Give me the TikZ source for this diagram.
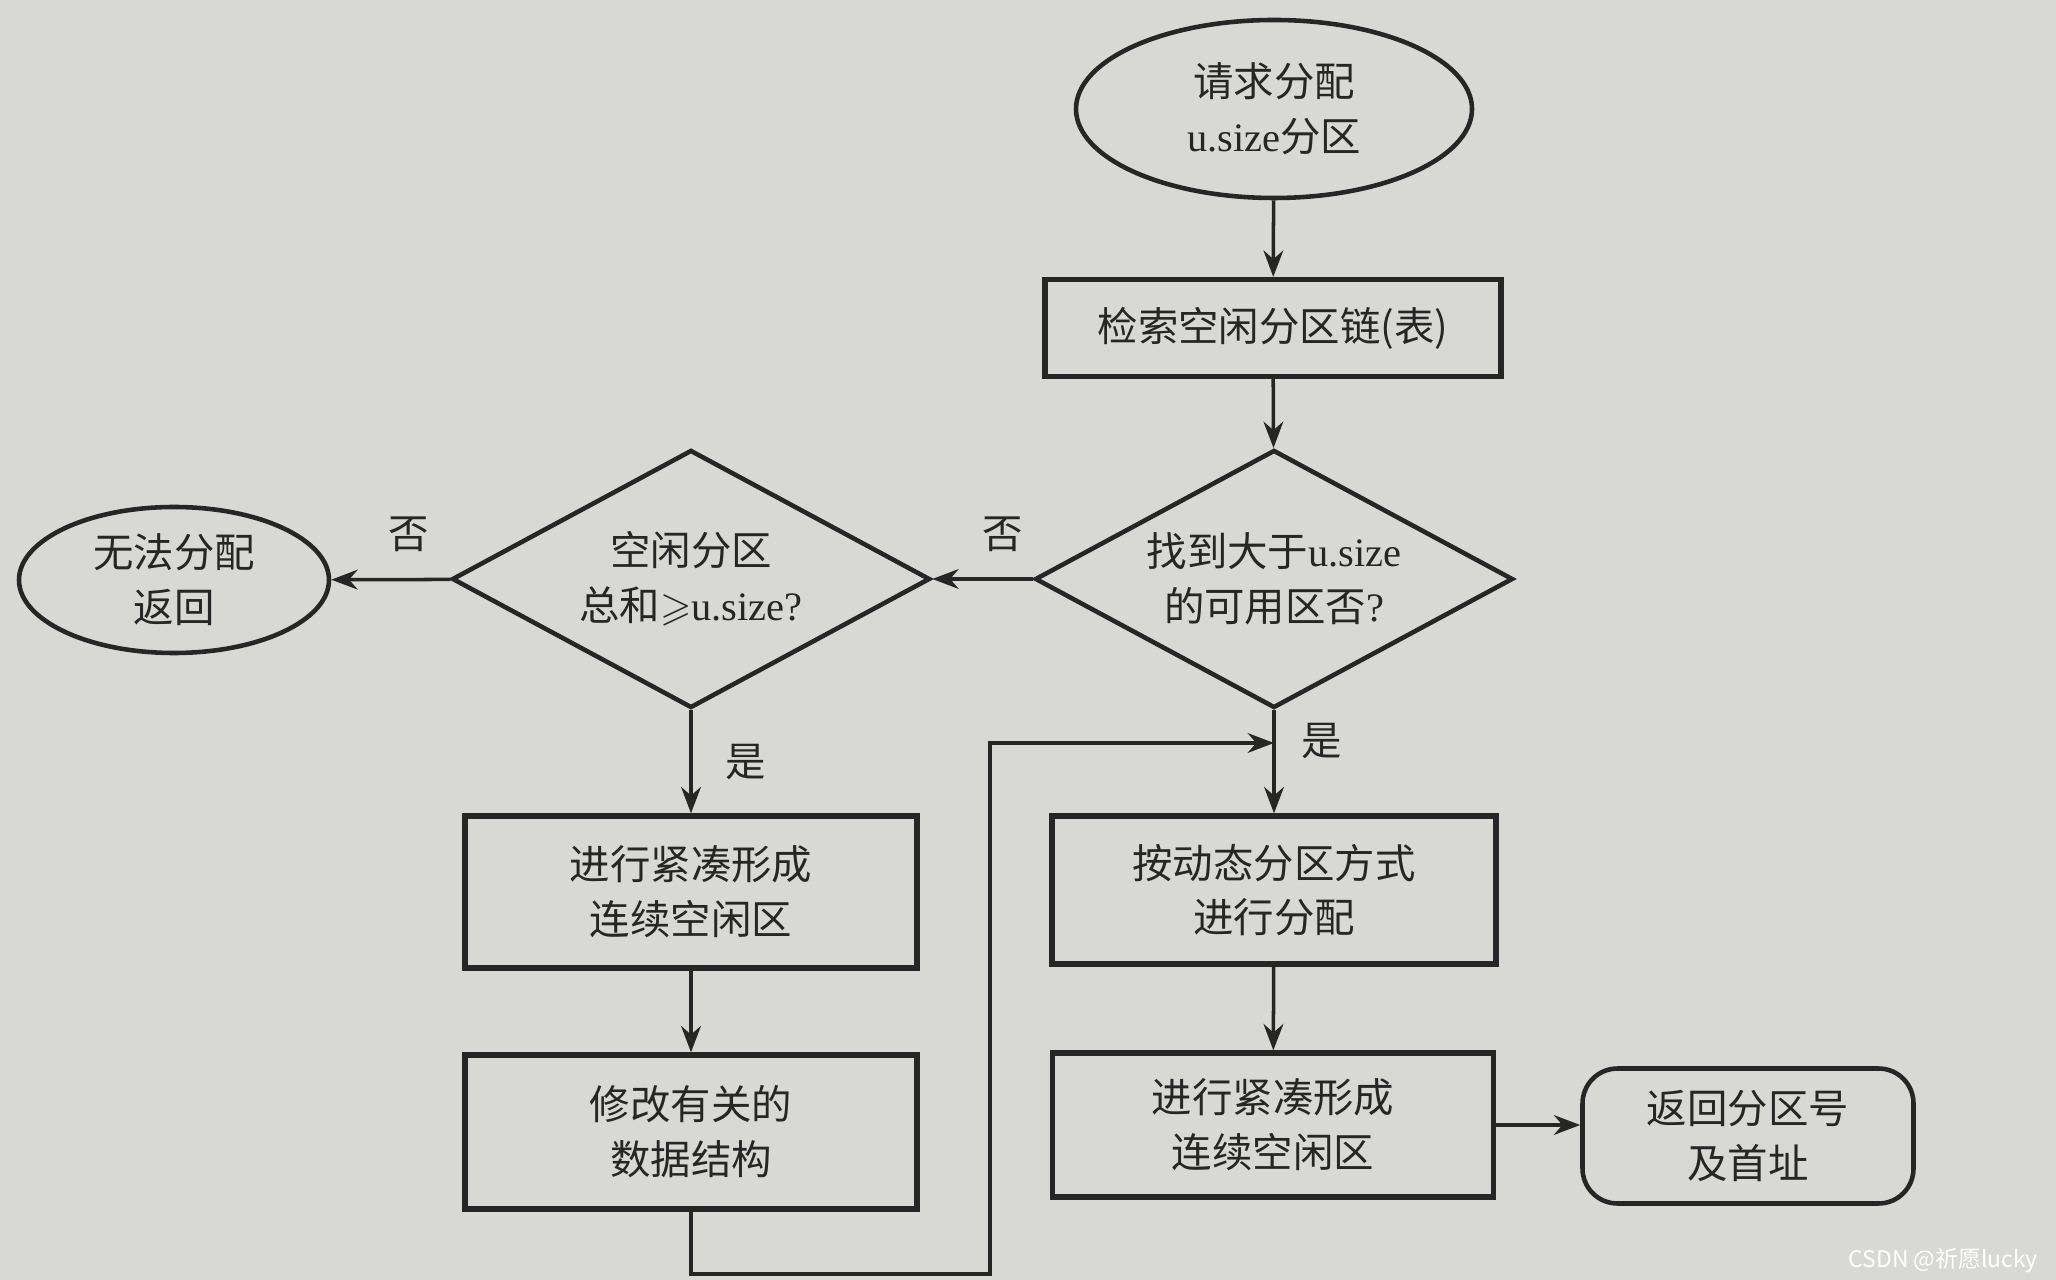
\documentclass[tikz,border=0pt]{standalone}
\usepackage{amssymb}
\usepackage{fontspec}
\setmainfont{Noto Sans CJK SC}
\newfontfamily\latinfont{Liberation Serif}
\usetikzlibrary{arrows.meta,shapes.geometric,positioning}
\definecolor{paper}{RGB}{216,216,213}
\definecolor{ink}{RGB}{38,38,38}
\newcommand{\usz}{{\latinfont u.size}}

\begin{document}
\begin{tikzpicture}[>=Stealth,font=\fontsize{11.5}{15.6}\selectfont,text=ink,
  procbox/.style={draw=ink,line width=1.5pt,minimum width=4.5cm,minimum height=1.5cm,align=center},
  decide/.style={diamond,aspect=1.85,draw=ink,line width=1.3pt,minimum width=4.78cm,minimum height=2.58cm,inner sep=0pt,align=center},
  terminal/.style={ellipse,draw=ink,line width=1.3pt,align=center,inner sep=0pt},
  flow/.style={->,draw=ink,line width=1pt}]
  \useasboundingbox (0,0) rectangle (20.56,-12.80);
  \fill[paper] (0,0) rectangle (20.56,-12.80);
  % nodes
  \node[terminal,minimum width=3.96cm,minimum height=1.78cm] (req) at (12.74,-1.09) {请求分配\\\usz 分区};
  \node[procbox,minimum width=4.56cm,minimum height=0.97cm] (search) at (12.73,-3.28) {检索空闲分区链(表)};
  \node[decide] (found) at (12.74,-5.79) {找到大于\usz\\的可用区否{\latinfont ?}};
  \node[decide] (total) at (6.91,-5.79) {空闲分区\\总和$\geqslant$\usz{\latinfont ?}};
  \node[terminal,minimum width=3.10cm,minimum height=1.46cm] (fail) at (1.74,-5.80) {无法分配\\返回};
  \node[procbox,minimum width=4.52cm,minimum height=1.52cm] (compact) at (6.91,-8.92) {进行紧凑形成\\连续空闲区};
  \node[procbox,minimum width=4.52cm,minimum height=1.54cm] (modify) at (6.91,-11.32) {修改有关的\\数据结构};
  \node[procbox,minimum width=4.44cm,minimum height=1.48cm] (alloc) at (12.74,-8.90) {按动态分区方式\\进行分配};
  \node[procbox,minimum width=4.41cm,minimum height=1.44cm] (compact2) at (12.73,-11.25) {进行紧凑形成\\连续空闲区};
  \node[draw=ink,line width=1.3pt,rounded corners=0.35cm,minimum width=3.31cm,minimum height=1.35cm,align=center] (ret) at (17.48,-11.36) {返回分区号\\及首址};
  \coordinate (join) at (12.74,-7.43);
  \coordinate (low) at (6.91,-12.74);
  \coordinate (turn) at (9.90,-12.74);
  % connectors
  \draw[flow] (req) -- (search);
  \draw[flow] (search) -- (found);
  \draw[flow] (found) -- node[above=4pt,pos=0.3] (no1) {否} (total);
  \draw[flow] (total) -- node[above=4pt,pos=0.35] (no2) {否} (fail);
  \draw[flow] (total) -- node[right=6pt,pos=0.5] (yes2) {是} (compact);
  \draw[flow] (compact) -- (modify);
  \draw[flow] (found) -- node[right=4pt,pos=0.3] (yes1) {是} (alloc);
  \draw[flow] (alloc) -- (compact2);
  \draw[flow] (compact2.east) -- (ret.west |- compact2.east);
  \draw[flow] (modify) -- (low) -- (turn) |- (join);
  \node[text=white,anchor=east,font=\fontsize{6.5}{8}\selectfont] (mark) at (20.50,-12.61) {CSDN @祈愿lucky};
\end{tikzpicture}
\end{document}
